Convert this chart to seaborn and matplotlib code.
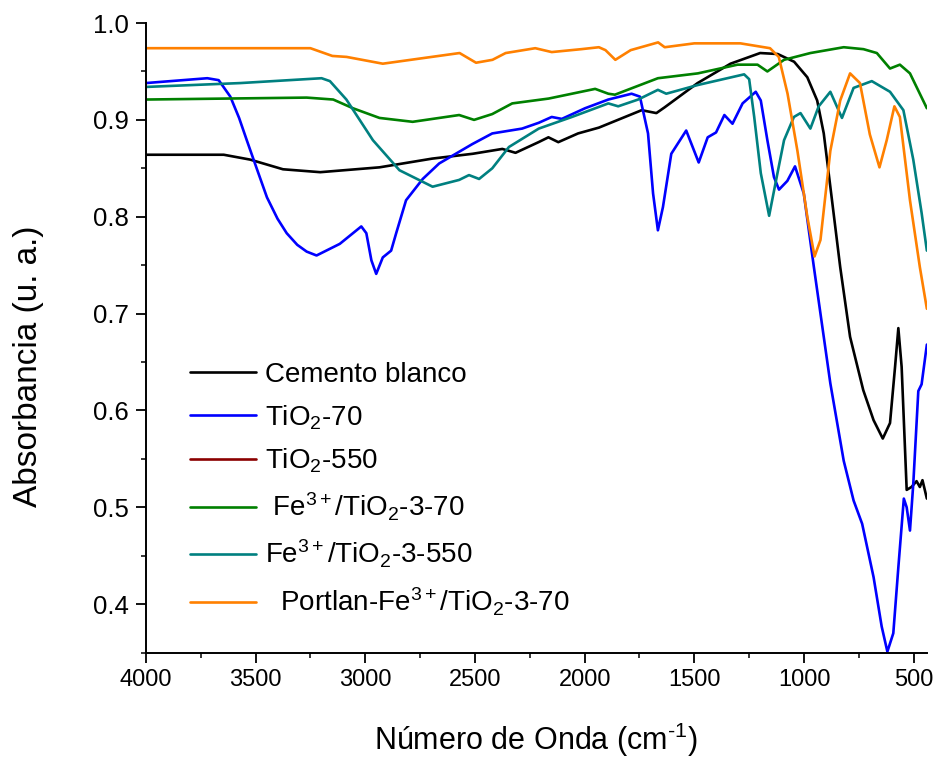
import matplotlib
matplotlib.use("Agg")
import matplotlib.pyplot as plt
from matplotlib.lines import Line2D
from matplotlib.ticker import MultipleLocator
import seaborn as sns
import pandas as pd

# ---------------- data ----------------
labels = ["Cemento blanco", r"TiO$_2$-70", r"TiO$_2$-550",
          r" Fe$^{3+}$/TiO$_2$-3-70", r"Fe$^{3+}$/TiO$_2$-3-550",
          r"  Portlan-Fe$^{3+}$/TiO$_2$-3-70"]
colors = ["#000000", "#0000FF", "#8B0000", "#008000", "#008080", "#FF8000"]

cem_x = [4000, 3645, 3525, 3375, 3205, 2935, 2695, 2510, 2375, 2315, 2210, 2165, 2120, 2030, 1935,
         1740, 1673, 1635, 1485, 1335, 1200, 1120, 1045, 985, 940, 910, 880, 835, 790, 730,
         683, 641, 608, 585, 570, 555, 532, 510, 487, 472, 460, 440]
cem_y = [0.864, 0.864, 0.859, 0.849, 0.846, 0.851, 0.860, 0.865, 0.870, 0.866, 0.877, 0.882, 0.877,
         0.886, 0.892, 0.910, 0.907, 0.913, 0.938, 0.958, 0.969, 0.968, 0.960, 0.944, 0.920, 0.886,
         0.831, 0.748, 0.676, 0.621, 0.590, 0.571, 0.587, 0.645, 0.685, 0.645, 0.518, 0.521,
         0.527, 0.521, 0.528, 0.509]

tio70_x = [4000, 3720, 3668, 3615, 3575, 3540, 3495, 3448, 3400, 3358, 3310, 3267, 3222, 3116, 3018,
           2995, 2972, 2950, 2920, 2882, 2859, 2814, 2738, 2663, 2512, 2421, 2285, 2209, 2150, 2104,
           1998, 1892, 1786, 1748, 1711, 1688, 1666, 1643, 1605, 1537, 1480, 1439, 1401, 1363, 1326,
           1280, 1220, 1197, 1167, 1137, 1114, 1076, 1041, 1001, 955, 910, 880, 819, 774, 735, 683,
           646, 620, 593, 570, 545, 532, 517, 502, 479, 464, 440]
tio70_y = [0.938, 0.943, 0.941, 0.924, 0.902, 0.879, 0.850, 0.820, 0.798, 0.783, 0.771, 0.764, 0.760,
           0.772, 0.790, 0.783, 0.755, 0.741, 0.758, 0.765, 0.783, 0.817, 0.839, 0.855, 0.875, 0.886,
           0.891, 0.897, 0.903, 0.901, 0.912, 0.921, 0.927, 0.924, 0.886, 0.824, 0.786, 0.810, 0.865,
           0.889, 0.856, 0.882, 0.887, 0.905, 0.896, 0.917, 0.929, 0.920, 0.879, 0.841, 0.828, 0.837,
           0.852, 0.824, 0.748, 0.676, 0.628, 0.548, 0.507, 0.483, 0.428, 0.377, 0.351, 0.370, 0.438,
           0.509, 0.500, 0.476, 0.524, 0.620, 0.627, 0.668]

fe70_x = [4000, 3267, 3146, 3056, 2935, 2784, 2572, 2504, 2421, 2330, 2164, 1952, 1892, 1862, 1666,
          1484, 1303, 1212, 1167, 1091, 971, 819, 729, 668, 608, 563, 517, 440]
fe70_y = [0.921, 0.923, 0.921, 0.912, 0.902, 0.898, 0.905, 0.900, 0.906, 0.917, 0.922, 0.932, 0.927,
          0.926, 0.943, 0.948, 0.957, 0.957, 0.950, 0.962, 0.969, 0.975, 0.973, 0.969, 0.953, 0.957,
          0.948, 0.912]

fe550_x = [4000, 3569, 3199, 3161, 3086, 2965, 2844, 2693, 2572, 2527, 2481, 2421, 2345, 2209, 2058,
           1892, 1847, 1756, 1666, 1628, 1484, 1273, 1250, 1227, 1197, 1159, 1121, 1091, 1046, 1016,
           971, 933, 880, 827, 774, 691, 608, 547, 502, 464, 440]
fe550_y = [0.934, 0.938, 0.943, 0.940, 0.921, 0.879, 0.848, 0.831, 0.838, 0.843, 0.839, 0.850, 0.872,
           0.891, 0.903, 0.917, 0.914, 0.921, 0.931, 0.927, 0.936, 0.947, 0.942, 0.903, 0.845, 0.801,
           0.845, 0.879, 0.903, 0.907, 0.891, 0.914, 0.929, 0.902, 0.933, 0.940, 0.929, 0.910, 0.859,
           0.804, 0.765]

port_x = [4000, 3250, 3150, 3085, 2920, 2570, 2525, 2495, 2420, 2360, 2225, 2150, 2015, 1935, 1905,
          1860, 1790, 1665, 1635, 1500, 1290, 1155, 1115, 1075, 1030, 985, 952, 925, 880, 835, 790,
          745, 700, 656, 623, 588, 563, 517, 472, 440]
port_y = [0.974, 0.974, 0.966, 0.965, 0.958, 0.969, 0.963, 0.959, 0.962, 0.969, 0.974, 0.970, 0.973,
          0.975, 0.972, 0.962, 0.972, 0.980, 0.975, 0.979, 0.979, 0.974, 0.965, 0.927, 0.868, 0.800,
          0.759, 0.776, 0.868, 0.920, 0.948, 0.938, 0.885, 0.851, 0.879, 0.914, 0.903, 0.817, 0.748,
          0.705]

x_ticks = [4000, 3500, 3000, 2500, 2000, 1500, 1000, 500]
y_ticks = [0.4, 0.5, 0.6, 0.7, 0.8, 0.9, 1.0]

# ---------------- figure ----------------
sns.set_theme(style="ticks")
plt.rcParams["font.family"] = ["Liberation Sans", "DejaVu Sans"]
plt.rcParams["mathtext.fontset"] = "custom"
plt.rcParams["mathtext.rm"] = "Liberation Sans"
plt.rcParams["mathtext.it"] = "Liberation Sans:italic"
plt.rcParams["mathtext.bf"] = "Liberation Sans:bold"
plt.rcParams["mathtext.default"] = "regular"
plt.rcParams["text.color"] = "black"
plt.rcParams["axes.labelcolor"] = "black"
plt.rcParams["xtick.color"] = "black"
plt.rcParams["ytick.color"] = "black"

fig = plt.figure(figsize=(9.35, 7.57), dpi=100)
ax = fig.add_axes([0.156, 0.1379, 0.8353, 0.8317])

series = [(cem_x, cem_y, 0), (tio70_x, tio70_y, 1), (fe70_x, fe70_y, 3),
          (fe550_x, fe550_y, 4), (port_x, port_y, 5)]
frames = []
for xs, ys, idx in series:
    frames.append(pd.DataFrame({"x": xs, "y": ys, "s": labels[idx]}))
df = pd.concat(frames, ignore_index=True)
pal = {labels[i]: colors[i] for i in range(len(labels))}
order = [labels[i] for i in (0, 1, 3, 4, 5)]
sns.lineplot(data=df, x="x", y="y", hue="s", hue_order=order, palette=pal,
             sort=False, estimator=None, linewidth=1.9, ax=ax, legend=False)

ax.set_xlim(4000, 440)
ax.set_ylim(0.35, 1.0)
ax.set_xticks(x_ticks)
ax.set_xticklabels([str(v) for v in x_ticks])
ax.set_yticks(y_ticks)
ax.set_yticklabels([f"{v:.1f}" for v in y_ticks])
ax.xaxis.set_minor_locator(MultipleLocator(250))
ax.yaxis.set_minor_locator(MultipleLocator(0.05))
ax.tick_params(which="major", direction="out", length=7, width=1.3, color="black", pad=5)
ax.tick_params(which="minor", direction="out", length=3.5, width=1.1, color="black")
for lab in ax.get_xticklabels():
    lab.set_fontsize(17)
for lab in ax.get_yticklabels():
    lab.set_fontsize(18.5)

sns.despine(ax=ax)
for sp in ("left", "bottom"):
    ax.spines[sp].set_linewidth(1.4)
    ax.spines[sp].set_color("black")

ax.set_xlabel(r"Número de Onda (cm$^{\text{-}1}$)", fontsize=22, labelpad=21)
ax.set_ylabel("Absorbancia (u. a.)", fontsize=24)
ax.yaxis.set_label_coords(-0.13, 0.455)

handles = [Line2D([], [], color=c, lw=1.9) for c in colors]
ax.legend(handles, labels, loc="upper left", bbox_to_anchor=(0.056, 0.462),
          frameon=False, fontsize=20, handlelength=2.4, handletextpad=0.3,
          borderpad=0, borderaxespad=0, labelspacing=0.55)

fig.savefig("out.png", dpi=100, facecolor="white")
